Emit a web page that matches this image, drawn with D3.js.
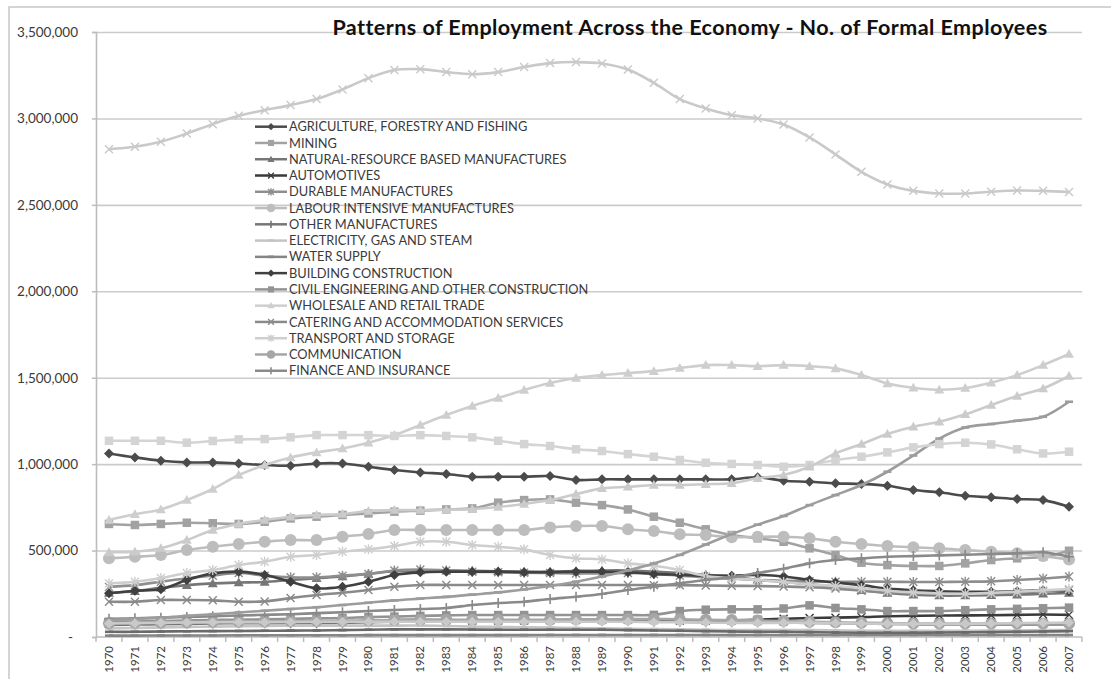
<!DOCTYPE html>
<html>
<head>
<meta charset="utf-8">
<script src="https://cdn.jsdelivr.net/npm/d3@7/dist/d3.min.js"></script>
<style>
  html, body { margin: 0; padding: 0; background: #fff; overflow: hidden; }
  svg { display: block; }
  text { font-family: Lato, "Open Sans", "Liberation Sans", sans-serif; }
</style>
</head>
<body>
<svg id="chart" width="1111" height="679"></svg>
<script>
// ---------------------------------------------------------------------------
// Data: formal employees by sector, thousands of people, 1970-2007
// ---------------------------------------------------------------------------
const UNIT = 1000;

const years = ["1970","1971","1972","1973","1974","1975","1976","1977","1978","1979",
               "1980","1981","1982","1983","1984","1985","1986","1987","1988","1989",
               "1990","1991","1992","1993","1994","1995","1996","1997","1998","1999",
               "2000","2001","2002","2003","2004","2005","2006","2007"];

const yTicks = [0, 500000, 1000000, 1500000, 2000000, 2500000, 3000000, 3500000];

const seriesNames = [
  "AGRICULTURE, FORESTRY AND FISHING",
  "MINING",
  "NATURAL-RESOURCE BASED MANUFACTURES",
  "AUTOMOTIVES",
  "DURABLE MANUFACTURES",
  "LABOUR INTENSIVE MANUFACTURES",
  "OTHER MANUFACTURES",
  "ELECTRICITY, GAS AND STEAM",
  "WATER SUPPLY",
  "BUILDING CONSTRUCTION",
  "CIVIL ENGINEERING AND OTHER CONSTRUCTION",
  "WHOLESALE AND RETAIL TRADE",
  "CATERING AND ACCOMMODATION SERVICES",
  "TRANSPORT AND STORAGE",
  "COMMUNICATION",
  "FINANCE AND INSURANCE",
  "BUSINESS SERVICES",
  "REAL ESTATE",
  "OTHER PRODUCERS",
  "COMMUNITY, SOCIAL AND PERSONAL SERVICES",
  "PRIVATE HOUSEHOLDS",
  "GENERAL GOVERNMENT"
];

const agriculture   = [1062,1039,1020,1010,1010,1004,995,991,1004,1004,985,966,952,943,927,927,927,931,908,912,912,912,912,912,912,924,904,898,889,885,875,850,837,817,808,798,792,754];
const mining        = [654,648,654,661,658,654,667,686,696,706,715,725,731,738,744,777,792,796,777,763,738,696,661,623,590,571,551,513,474,430,416,411,411,426,445,455,464,499];
const naturalRes    = [255,265,285,300,310,315,318,330,340,350,365,380,385,385,383,380,378,378,382,385,385,378,370,360,350,330,320,305,290,270,255,245,240,240,242,245,250,255];
const automotives   = [75,78,82,85,88,90,90,88,85,88,92,98,100,98,95,95,96,98,100,100,100,98,96,95,96,100,105,110,112,115,120,122,124,125,126,128,130,128];
const durable       = [290,300,320,340,355,370,355,345,345,355,365,385,390,385,378,375,372,370,368,368,370,365,355,345,338,330,325,322,320,320,320,318,318,320,322,330,338,350];
const labourInt     = [455,464,474,503,522,538,551,561,561,580,596,619,619,619,619,619,619,634,642,642,623,613,594,590,577,580,580,571,551,538,526,519,513,503,493,484,468,449];
const otherManuf    = [70,72,74,76,78,80,80,80,80,82,85,88,90,90,88,88,88,90,92,92,92,90,88,86,85,85,84,82,80,78,76,74,72,72,72,72,72,72];
const electricity   = [50,52,55,58,60,62,64,65,66,66,66,66,66,64,60,58,56,54,52,50,48,46,44,42,40,40,40,40,38,36,36,36,36,36,37,38,40,40];
const water         = [8,8,9,9,9,10,10,10,10,10,11,11,11,11,11,11,11,12,12,12,12,12,12,12,12,12,12,12,12,12,12,12,12,12,12,12,12,12];
const building      = [253,268,276,330,368,378,359,320,282,291,320,359,374,378,378,378,375,375,378,378,375,365,360,355,355,359,350,330,315,300,280,270,265,262,262,265,270,265];
const civilEng      = [88,90,92,95,98,100,102,105,108,110,115,118,122,125,127,127,127,127,127,127,127,128,150,158,160,160,165,183,168,160,150,150,150,155,160,163,166,170];
const wholesale     = [677,710,738,792,856,937,995,1039,1068,1091,1124,1168,1226,1284,1336,1382,1429,1469,1498,1515,1527,1538,1556,1573,1573,1567,1573,1567,1554,1515,1467,1442,1430,1440,1471,1515,1573,1637];
const catering      = [204,204,214,214,212,204,206,225,243,256,272,291,301,301,301,301,301,301,301,301,301,300,300,298,296,295,292,288,280,268,258,252,250,250,252,258,265,272];
const transport     = [310,320,341,370,387,416,436,464,474,493,507,526,551,551,532,522,507,474,455,449,426,412,387,353,340,330,318,305,295,282,268,258,252,250,255,262,270,278];
const communication = [80,82,84,86,88,90,90,92,92,94,96,98,100,100,100,100,100,100,102,102,104,104,102,100,98,95,92,88,85,82,80,78,78,78,78,78,78,78];
const finance       = [105,108,112,116,120,124,128,132,138,143,150,156,162,168,185,197,204,220,233,249,272,291,311,330,345,370,395,426,445,455,464,468,472,476,480,484,490,464];
const business      = [98,105,112,122,132,142,152,162,172,185,198,212,222,232,245,258,275,295,320,350,385,425,475,535,595,650,700,763,821,879,956,1050,1148,1212,1232,1251,1274,1361];
const realEstate    = [30,30,32,33,34,35,36,37,38,40,42,44,44,44,43,42,42,42,42,42,40,38,36,34,32,30,30,28,26,25,25,25,26,27,28,30,32,34];
const otherProd     = [78,80,82,84,85,86,86,87,88,88,88,88,88,88,88,88,88,88,88,88,88,86,85,84,82,82,82,82,80,78,76,76,76,76,78,80,82,84];
const community     = [1135,1135,1135,1124,1134,1143,1145,1155,1168,1168,1168,1163,1168,1163,1155,1135,1116,1105,1086,1076,1058,1043,1024,1008,1001,995,985,995,1024,1043,1068,1097,1116,1124,1114,1086,1062,1072];
const households    = [490,493,513,561,619,654,677,696,706,711,729,734,734,736,740,752,769,792,827,860,869,879,879,884,889,918,937,985,1062,1116,1174,1216,1245,1288,1342,1394,1438,1510];
const government    = [2822,2836,2865,2913,2967,3015,3048,3077,3112,3168,3233,3280,3285,3268,3256,3268,3297,3320,3326,3318,3283,3206,3112,3058,3019,3000,2965,2890,2792,2691,2618,2581,2566,2566,2576,2583,2581,2574];

const seriesValues = [agriculture, mining, naturalRes, automotives, durable, labourInt,
  otherManuf, electricity, water, building, civilEng, wholesale, catering, transport,
  communication, finance, business, realEstate, otherProd, community, households, government];

// ---------------------------------------------------------------------------
// Styling: monochrome palette and the automatic marker cycle
// ---------------------------------------------------------------------------
const palette = ["#4b4b4b","#a2a2a2","#767676","#3a3a3a","#8e8e8e","#bdbdbd","#767676",
                 "#c4c4c4","#858585","#404040","#939393","#cecece","#8a8a8a","#cecece",
                 "#a6a6a6","#8a8a8a","#9c9c9c","#6a6a6a","#c9c9c9","#d4d4d4","#cbcbcb","#c9c9c9"];
const markerCycle = ["diamond","square","triangle","x","star","circle","plus","dash","dash"];
const LEGEND_ROWS = 16;   // the legend box holds the first sixteen sectors

const series = seriesNames.map((name, i) => ({
  name,
  color: palette[i],
  marker: markerCycle[i % markerCycle.length],
  points: years.map((yr, j) => ({ year: yr, value: seriesValues[i][j] * UNIT }))
}));

// ---------------------------------------------------------------------------
// Layout and scales
// ---------------------------------------------------------------------------
const svg = d3.select("#chart");
const plot = { left: 96, right: 1082, top: 32, bottom: 637 };

const band = d3.scaleBand().domain(years).range([plot.left, plot.right]);
const x = d3.scalePoint().domain(years).range([plot.left, plot.right]).padding(0.5);
const y = d3.scaleLinear().domain([0, 3500000]).range([plot.bottom, plot.top]);

// chart frame
svg.append("rect")
  .attr("x", 9).attr("y", 7).attr("width", 1400).attr("height", 900)
  .attr("fill", "none").attr("stroke", "#c8c8c8").attr("stroke-width", 1.5);

// horizontal gridlines
const grid = svg.append("g")
  .attr("transform", `translate(${plot.left},0)`)
  .call(d3.axisLeft(y).tickValues(yTicks.filter(d => d > 0))
          .tickSize(-(plot.right - plot.left)).tickFormat(""));
grid.select(".domain").remove();
grid.selectAll(".tick line").attr("stroke", "#cbcbcb").attr("stroke-width", 1.6);

// y axis with accounting-style labels
const fmt = d3.format(",");
const yAxis = svg.append("g")
  .attr("transform", `translate(${plot.left},0)`)
  .call(d3.axisLeft(y).tickValues(yTicks).tickSize(4).tickPadding(14)
          .tickFormat(d => d === 0 ? "-" : fmt(d)));
yAxis.select(".domain").attr("stroke", "#bcbcbc").attr("stroke-width", 1.6);
yAxis.selectAll(".tick line").attr("stroke", "#bcbcbc").attr("stroke-width", 1.5);
yAxis.selectAll(".tick text")
  .attr("fill", "#3a3a3a").attr("font-size", "13.5px")
  .attr("dx", d => d === 0 ? "-5px" : 0);

// x axis: baseline, category boundary ticks, rotated year labels
svg.append("line")
  .attr("x1", plot.left).attr("x2", plot.right)
  .attr("y1", y(0)).attr("y2", y(0))
  .attr("stroke", "#bcbcbc").attr("stroke-width", 1.6);

const boundaries = years.map(yr => band(yr)).concat([plot.right]);
svg.append("g").selectAll("line").data(boundaries).join("line")
  .attr("x1", d => d).attr("x2", d => d)
  .attr("y1", y(0)).attr("y2", y(0) + 5)
  .attr("stroke", "#bcbcbc").attr("stroke-width", 1.5);

svg.append("g").selectAll("text").data(years).join("text")
  .attr("transform", d => `translate(${x(d)},${y(0) + 9}) rotate(-90)`)
  .attr("text-anchor", "end").attr("dy", "0.35em")
  .attr("fill", "#3a3a3a").attr("font-size", "11.5px")
  .text(d => d);

// ---------------------------------------------------------------------------
// Markers
// ---------------------------------------------------------------------------
function drawMarker(g, type, color, s) {
  const r = s;
  switch (type) {
    case "diamond":
      return g.append("path").attr("d", `M0,${-r}L${r},0L0,${r}L${-r},0Z`).attr("fill", color);
    case "square":
      return g.append("rect").attr("x", -r * 0.85).attr("y", -r * 0.85)
        .attr("width", r * 1.7).attr("height", r * 1.7).attr("fill", color);
    case "triangle":
      return g.append("path").attr("d", `M0,${-r}L${r},${r * 0.75}L${-r},${r * 0.75}Z`).attr("fill", color);
    case "x":
      return g.append("path").attr("d", `M${-r*0.8},${-r*0.8}L${r*0.8},${r*0.8}M${-r*0.8},${r*0.8}L${r*0.8},${-r*0.8}`)
        .attr("stroke", color).attr("stroke-width", 1.4).attr("fill", "none");
    case "star":
      return g.append("path").attr("d", `M${-r*0.8},${-r*0.8}L${r*0.8},${r*0.8}M${-r*0.8},${r*0.8}L${r*0.8},${-r*0.8}M0,${-r}L0,${r}`)
        .attr("stroke", color).attr("stroke-width", 1.4).attr("fill", "none");
    case "circle":
      return g.append("circle").attr("r", r * 1.2).attr("fill", color);
    case "plus":
      return g.append("path").attr("d", `M${-r},0L${r},0M0,${-r}L0,${r}`)
        .attr("stroke", color).attr("stroke-width", 1.6).attr("fill", "none");
    case "dash":
      return g.append("rect").attr("x", -r * 0.8).attr("y", -1.3)
        .attr("width", r * 1.6).attr("height", 2.6).attr("fill", color);
  }
}

// ---------------------------------------------------------------------------
// Series lines
// ---------------------------------------------------------------------------
const line = d3.line()
  .x(d => x(d.year))
  .y(d => y(d.value))
  .curve(d3.curveCatmullRom.alpha(0.5));

const layer = svg.append("g");
series.forEach(s => {
  const g = layer.append("g");
  g.append("path").datum(s.points)
    .attr("d", line).attr("fill", "none")
    .attr("stroke", s.color).attr("stroke-width", 2.6)
    .attr("stroke-linejoin", "round");
  s.points.forEach(p => {
    const m = g.append("g").attr("transform", `translate(${x(p.year)},${y(p.value)})`);
    drawMarker(m, s.marker, s.color, 5);
  });
});

// ---------------------------------------------------------------------------
// Legend
// ---------------------------------------------------------------------------
const legend = svg.append("g").attr("transform", "translate(255,126.7)");
series.slice(0, LEGEND_ROWS).forEach((s, i) => {
  const row = legend.append("g").attr("transform", `translate(0,${i * 16.27})`);
  row.append("line").attr("x1", 0).attr("x2", 32).attr("y1", 0).attr("y2", 0)
    .attr("stroke", s.color).attr("stroke-width", 2.5);
  const m = row.append("g").attr("transform", "translate(16,0)");
  drawMarker(m, s.marker, s.color, 3.6);
  row.append("text").attr("x", 34).attr("dy", "0.36em")
    .attr("fill", "#3a3a3a").attr("font-size", "12.8px")
    .text(s.name);
});

// ---------------------------------------------------------------------------
// Title
// ---------------------------------------------------------------------------
svg.append("text")
  .attr("x", 690).attr("y", 35)
  .attr("text-anchor", "middle")
  .attr("font-weight", "bold").attr("font-size", "21.5px").attr("fill", "#111")
  .attr("letter-spacing", "0.45px")
  .text("Patterns of Employment Across the Economy - No. of Formal Employees");
</script>
</body>
</html>
